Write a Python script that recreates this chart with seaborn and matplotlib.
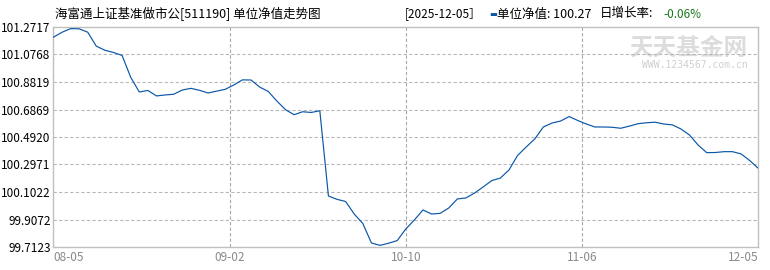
import numpy as np
import pandas as pd
import matplotlib
matplotlib.use("Agg")
import matplotlib.pyplot as plt
import seaborn as sns

# ---- data ----
nav = [101.199, 101.234, 101.260, 101.259, 101.235, 101.136, 101.107, 101.091, 101.070, 100.916,
       100.811, 100.822, 100.783, 100.790, 100.795, 100.825, 100.837, 100.823, 100.804, 100.817,
       100.830, 100.861, 100.897, 100.896, 100.846, 100.815, 100.747, 100.686, 100.650, 100.671,
       100.666, 100.678, 100.074, 100.050, 100.035, 99.946, 99.879, 99.741, 99.724, 99.739,
       99.758, 99.840, 99.904, 99.975, 99.946, 99.951, 99.989, 100.053, 100.060, 100.095,
       100.138, 100.183, 100.201, 100.258, 100.361, 100.421, 100.478, 100.563, 100.591, 100.605,
       100.637, 100.609, 100.584, 100.563, 100.563, 100.561, 100.554, 100.569, 100.586, 100.593,
       100.597, 100.584, 100.578, 100.549, 100.506, 100.435, 100.381, 100.382, 100.388, 100.388,
       100.372, 100.325, 100.270]
x_labels = ["08-05", "09-02", "10-10", "11-06", "12-05"]
y_ticks = [99.7123, 99.9072, 100.1022, 100.2971, 100.4920, 100.6869, 100.8819, 101.0768, 101.2717]
title = "海富通上证基准做市公[511190] 单位净值走势图"
last_date = "[2025-12-05］"
last_nav = "100.27"
last_chg = "-0.06%"

sns.set_style("white")
plt.rcParams['font.family'] = ['Noto Sans CJK SC', 'DejaVu Sans']

df = pd.DataFrame({"i": np.arange(len(nav)), "nav": nav})

fig = plt.figure(figsize=(7.7, 2.7), dpi=100)
ax = fig.add_axes([53.3 / 770, 1 - 247 / 270, 705 / 770, 220 / 270])

# watermark
ax.text(0.985, 0.96, "天天基金网", transform=ax.transAxes, ha="right", va="top",
        fontsize=17, color="#dcdcdc", fontweight="bold", zorder=0)
ax.text(0.985, 0.852, "WWW.1234567.com.cn", transform=ax.transAxes, ha="right", va="top",
        fontsize=7, color="#d0d0d0", zorder=0, family=["DejaVu Sans Mono"])

sns.lineplot(data=df, x="i", y="nav", ax=ax, color="#0a56a8", linewidth=0.85, zorder=3)

n = len(nav)
ax.set_xlim(0, n - 1)
ax.set_ylim(y_ticks[0], y_ticks[-1])
ax.set_yticks(y_ticks)
ax.set_yticklabels([f"{v:.4f}" for v in y_ticks], fontsize=8.5, color="black")
xt = np.linspace(0, n - 1, len(x_labels))
ax.set_xticks(xt)
ax.set_xticklabels(x_labels, fontsize=8.5, color="#8a8a8a")
tl = ax.get_xticklabels()
tl[0].set_ha("left")
tl[-1].set_ha("right")
ax.tick_params(axis="both", length=0, pad=3)
ax.tick_params(axis="y", pad=2)
ax.set_xlabel("")
ax.set_ylabel("")

for v in y_ticks[1:-1]:
    ax.axhline(v, color="#b8b8b8", linestyle=(0, (3, 2)), linewidth=0.8, zorder=1)
for p in xt[1:-1]:
    ax.axvline(p, color="#a8a8a8", linestyle=(0, (3, 2)), linewidth=0.8, zorder=1)

for s in ax.spines.values():
    s.set_visible(True)
    s.set_color("#c0c0c0")
    s.set_linewidth(1.0)

# header texts
fig.text(55 / 770, 1 - 14 / 270, title, ha="left", va="center", fontsize=9, color="black")
fig.text(405 / 770, 1 - 14 / 270, last_date, ha="left", va="center", fontsize=8.5, color="black")
fig.text(489 / 770, 1 - 14 / 270, "▬", ha="left", va="center", fontsize=6, color="#0a56a8",
         family=["DejaVu Sans"])
fig.text(497 / 770, 1 - 14 / 270, "单位净值: " + last_nav, ha="left", va="center", fontsize=9, color="black")
fig.text(600 / 770, 1 - 14 / 270, "日增长率:", ha="left", va="center", fontsize=9, color="black")
fig.text(663 / 770, 1 - 14 / 270, last_chg, ha="left", va="center", fontsize=8.5, color="#1a7a1a")

fig.savefig("out.png", dpi=100)
